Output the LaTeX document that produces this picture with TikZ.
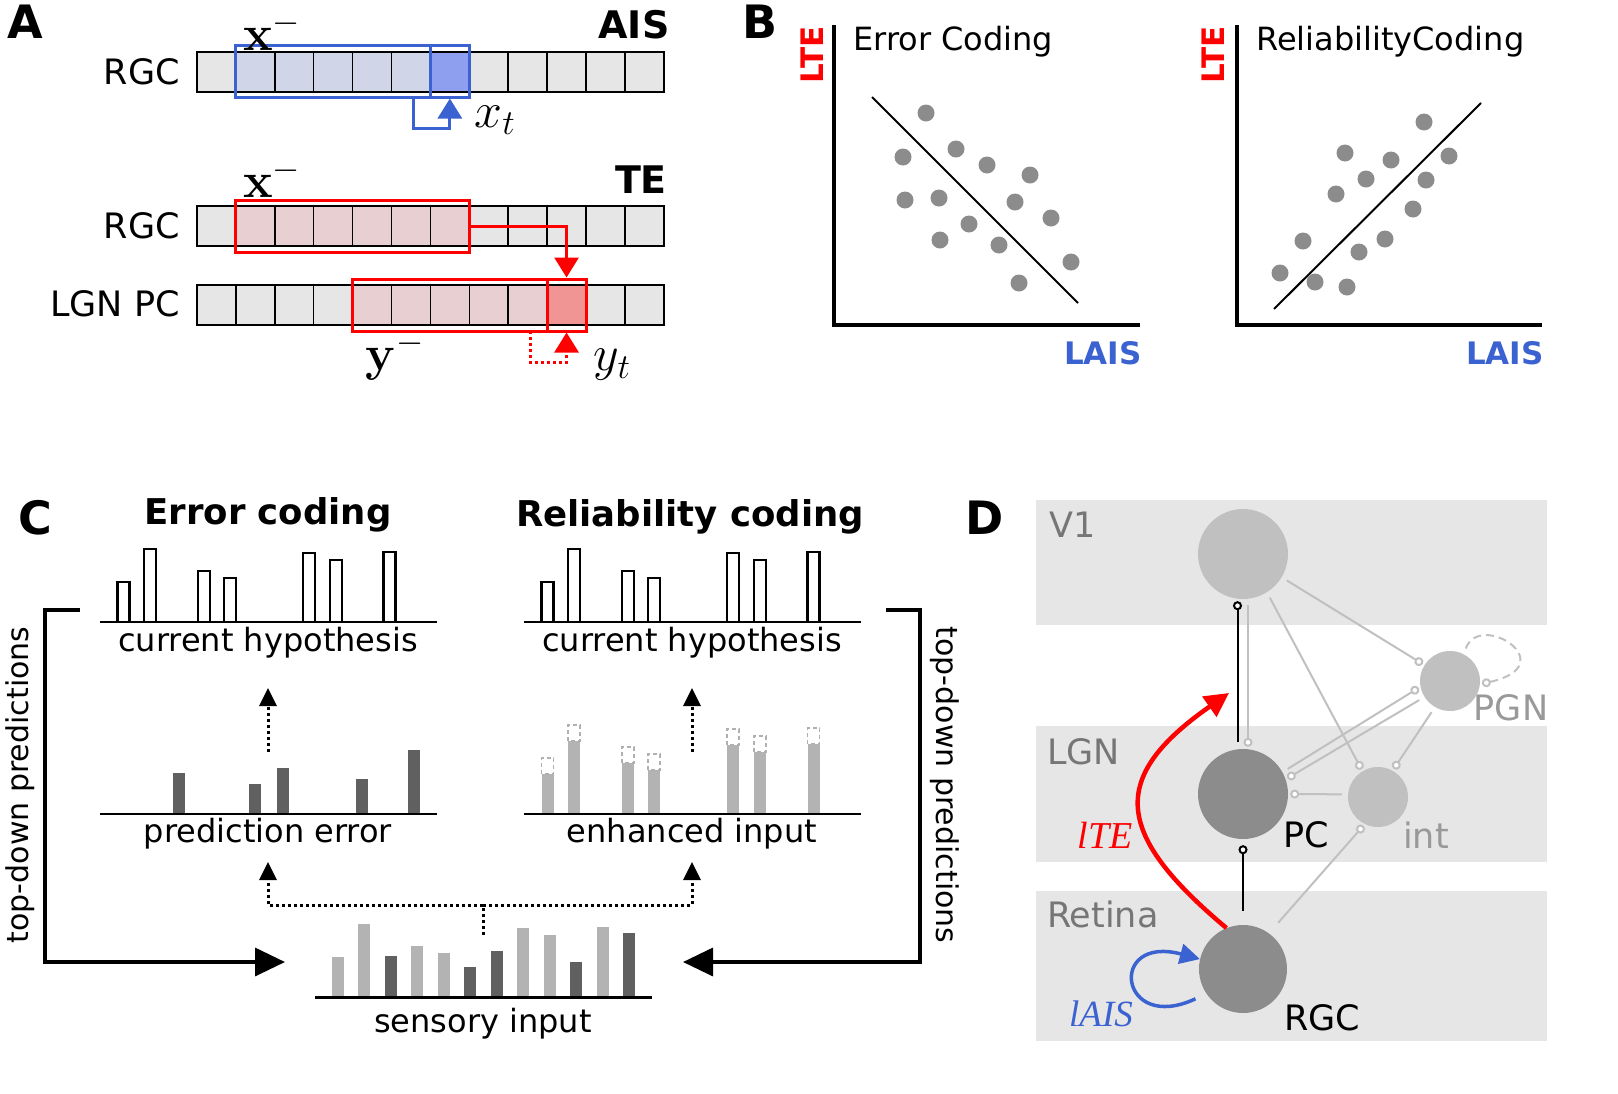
\RequirePackage{fix-cm}
\documentclass[tikz,border=0pt]{standalone}
\usepackage[no-math]{fontspec}
\setmainfont{DejaVu Sans}
\newfontfamily\labelserif{Liberation Serif}
\usetikzlibrary{arrows.meta,positioning}

\definecolor{cellgray}{HTML}{E6E6E6}
\definecolor{aisblue}{HTML}{3A62D0}
\definecolor{pastblue}{HTML}{D0D5E8}
\definecolor{nowblue}{HTML}{8F9FF0}
\definecolor{pastred}{HTML}{E8D0D2}
\definecolor{nowred}{HTML}{F09494}
\definecolor{dotgray}{HTML}{8C8C8C}
\definecolor{lightbar}{HTML}{B3B3B3}
\definecolor{darkbar}{HTML}{606060}
\definecolor{dashgray}{HTML}{B0B0B0}
\definecolor{bandgray}{HTML}{E6E6E6}
\definecolor{cellfill}{HTML}{C0C0C0}
\definecolor{labgray}{HTML}{767676}
\definecolor{namegray}{HTML}{999999}

\newcommand{\fsz}[1]{\fontsize{#1}{#1}\selectfont}

\begin{document}
\begin{tikzpicture}[x=1pt,y=-1pt,
  panel/.style={inner sep=0pt, font=\fsz{46}\bfseries},
  rowlbl/.style={inner sep=0pt, anchor=east, font=\fsz{35}},
  mathlbl/.style={inner sep=0pt, font=\fsz{50}},
  boldlbl/.style={inner sep=0pt, font=\fsz{38}\bfseries},
  axislbl/.style={inner sep=0pt, font=\fsz{31}\bfseries},
  lbl/.style={inner sep=0pt, font=\fsz{32}},
  ttl/.style={inner sep=0pt, font=\fsz{35.5}\bfseries},
  cell/.style={draw=black, line width=1.5pt, fill=cellgray},
  winbox/.style={draw=#1, line width=3pt, inner sep=0pt, minimum height=52pt},
  aisarrow/.style={draw=aisblue, line width=3pt, -{Triangle[length=20pt,width=24pt]}},
  tearrow/.style={draw=red, line width=3pt, -{Triangle[length=20pt,width=24pt]}},
  tedots/.style={tearrow, dash pattern=on 3pt off 3pt},
  axis/.style={line width=3.5pt},
  hypbar/.style={draw=black, line width=2.5pt, fill=white},
  base/.style={line width=2pt},
  dashbox/.style={draw=dashgray, line width=1.5pt, dash pattern=on 4pt off 3pt},
  dotline/.style={line width=3pt, dash pattern=on 3pt off 3pt},
  dotarrow/.style={dotline, -{Triangle[length=18pt,width=17pt]}},
  fbarrow/.style={line width=3.5pt, -{Triangle[length=30pt,width=28pt]}},
  bandlbl/.style={inner sep=0pt, anchor=west, text=labgray, font=\fsz{35}},
  cellname/.style={inner sep=0pt, font=\fsz{35}},
  cellnode/.style={circle, inner sep=0pt},
  syn/.style={draw=cellfill, line width=2pt, shorten <=6pt, shorten >=2pt, -{Circle[length=9pt, fill=white]}},
  synblack/.style={syn, draw=black},
  synloop/.style={syn, dash pattern=on 8pt off 5pt},
  tearc/.style={draw=red, line width=4.5pt, -{Triangle[length=24pt,width=24pt]}},
  aisloop/.style={draw=aisblue, line width=3.5pt, -{Triangle[length=20pt,width=20pt]}}
]
\useasboundingbox (0,0) rectangle (1618,1093);

% ---------- A ----------
\node[panel] (lblA) at (25,22) {A};
\foreach \y in {52,206,285}
  \foreach \i in {0,...,11}
    \draw[cell] (197+\i*38.9,\y) rectangle ++(38.9,40);
\foreach \i in {1,...,5}
  \draw[cell,fill=pastblue] (197+\i*38.9,52) rectangle ++(38.9,40);
\draw[cell,fill=nowblue] (197+6*38.9,52) rectangle ++(38.9,40);
\foreach \i in {1,...,6}
  \draw[cell,fill=pastred] (197+\i*38.9,206) rectangle ++(38.9,40);
\foreach \i in {4,...,8}
  \draw[cell,fill=pastred] (197+\i*38.9,285) rectangle ++(38.9,40);
\draw[cell,fill=nowred] (197+9*38.9,285) rectangle ++(38.9,40);

\node[winbox=aisblue, minimum width=233.4pt] (xpastA) at (352.6,71) {};
\node[winbox=aisblue, minimum width=38.9pt] (xnowA) at (449.85,71) {};
\node[winbox=red, minimum width=233.4pt] (xpastT) at (352.6,226) {};
\node[winbox=red, minimum width=233.4pt] (ypastT) at (469.3,305) {};
\node[winbox=red, minimum width=38.9pt] (ynowT) at (566.55,305) {};

\coordinate (aisfrom) at (413,97);
\draw[aisarrow] (aisfrom) -- ++(0,31) -| (xnowA.south);
\draw[tearrow] (xpastT.east) -| (ynowT.north);
\coordinate (yfrom) at (530,331);
\draw[tedots] (yfrom) -- ++(0,31) -| (ynowT.south);

\node[mathlbl] (xlabA) at (272,31) {$\mathbf{x}^{-}$};
\node[mathlbl] (xtlab) at (495,120) {$x_t$};
\node[boldlbl] (aislab) at (634,25) {AIS};
\node[rowlbl] (rgcA) at (180,72) {RGC};
\node[mathlbl] (xlabT) at (272,178) {$\mathbf{x}^{-}$};
\node[boldlbl] (telab) at (641,180) {TE};
\node[rowlbl] (rgcT) at (180,226) {RGC};
\node[rowlbl] (lgnT) at (180,304) {LGN PC};
\node[mathlbl] (ylab) at (395,356) {$\mathbf{y}^{-}$};
\node[mathlbl] (ytlab) at (612,365) {$y_t$};

% ---------- B ----------
\node[panel] (lblB) at (760,22) {B};
\draw[axis] (834,25) -- (834,325) -- (1140,325);
\node[lbl, anchor=west] (ttlEC) at (853,42) {Error Coding};
\node[axislbl, text=red, rotate=90] (lteL) at (812,55) {LTE};
\node[axislbl, text=aisblue] (laisL) at (1103,353) {LAIS};
\draw[line width=2pt] (872,97) -- (1078,303);
\foreach \x/\y in {926/113, 903/157, 956/149, 987/165, 1030/175, 905/200, 939/198,
                   1015/202, 1051/218, 969/224, 940/240, 999/245, 1071/262, 1019/283}
  \fill[dotgray] (\x,\y) circle[radius=8.5pt];

\draw[axis] (1237,25) -- (1237,325) -- (1542,325);
\node[lbl, anchor=west] (ttlRC) at (1256,42) {ReliabilityCoding};
\node[axislbl, text=red, rotate=90] (lteR) at (1213,55) {LTE};
\node[axislbl, text=aisblue] (laisR) at (1505,353) {LAIS};
\draw[line width=2pt] (1274,309) -- (1481,103);
\foreach \x/\y in {1424/122, 1345/153, 1391/160, 1449/156, 1366/179, 1426/180, 1336/194,
                   1413/209, 1303/241, 1385/239, 1359/252, 1280/273, 1315/282, 1347/287}
  \fill[dotgray] (\x,\y) circle[radius=8.5pt];

% ---------- C ----------
\node[panel] (lblC) at (35,518) {C};
\node[ttl] (ttlErr) at (268,515) {Error coding};
\node[ttl] (ttlRel) at (690,517) {Reliability coding};

% current hypothesis (both columns)
\foreach \dx in {0,424} {
  \foreach \x/\h in {23.5/40, 50/73, 104/51, 130/44, 209/69, 236/62, 289.5/70}
    \draw[hypbar] (100+\dx+\x-6,622) rectangle ++(12,-\h);
  \draw[base] (100+\dx,622) -- ++(337,0);
}
% prediction error
\foreach \x/\h in {78.8/41, 155.3/30, 182.6/46, 262.3/35, 313.5/64}
  \fill[darkbar] (100+\x-6,814) rectangle ++(12,-\h);
\draw[base] (100,814) -- ++(337,0);
% enhanced input
\foreach \x/\h in {23.5/40, 50/73, 104/51, 130/44, 209/69, 236/62, 289.5/70} {
  \fill[lightbar] (524+\x-6,814) rectangle ++(12,-\h);
  \draw[dashbox] (524+\x-6,814-\h) rectangle ++(12,-16);
}
\draw[base] (524,814) -- ++(337,0);
% sensory input
\foreach \x/\h/\c in {337.5/40/lightbar, 364/73/lightbar, 390.5/41/darkbar, 417/51/lightbar,
                      443.5/44/lightbar, 470/30/darkbar, 496.5/46/darkbar, 523/69/lightbar,
                      549.5/62/lightbar, 576/35/darkbar, 602.5/70/lightbar, 629/64/darkbar}
  \fill[\c] (\x-6,997) rectangle ++(12,-\h);
\draw[base, line width=3pt] (315,997) -- (652,997);

\node[lbl] (hypErr) at (268,643) {current hypothesis};
\node[lbl] (hypRel) at (692,643) {current hypothesis};
\node[lbl] (errLbl) at (268,834) {prediction error};
\node[lbl] (enhLbl) at (692,834) {enhanced input};
\node[lbl] (sensLbl) at (483,1024) {sensory input};
\node[lbl, font=\fsz{30}, rotate=90] (tdL) at (20,785) {top-down predictions};
\node[lbl, font=\fsz{30}, rotate=-90] (tdR) at (945,785) {top-down predictions};

\coordinate (fbLtop) at (80,610);
\coordinate (fbRtop) at (886,610);
\coordinate (sensleft) at (285,962);
\coordinate (sensright) at (683,962);
\draw[fbarrow] (fbLtop) -- ++(-35,0) |- (sensleft);
\draw[fbarrow] (fbRtop) -- ++(34,0) |- (sensright);

\coordinate (errUp) at (268,752);
\coordinate (hypDownE) at (268,688);
\coordinate (enhUp) at (692,752);
\coordinate (hypDownR) at (692,688);
\draw[dotarrow] (errUp) -- (hypDownE);
\draw[dotarrow] (enhUp) -- (hypDownR);
\coordinate (sensUp) at (483,935);
\coordinate (split) at (483,905);
\coordinate (errDown) at (268,862);
\coordinate (enhDown) at (692,862);
\draw[dotline] (sensUp) -- (split);
\draw[dotarrow] (split) -| (errDown);
\draw[dotarrow] (split) -| (enhDown);

% ---------- D ----------
\node[panel] (lblD) at (985,518) {D};
\fill[bandgray] (1036,500) rectangle (1547,625);
\fill[bandgray] (1036,726) rectangle (1547,862);
\fill[bandgray] (1036,891) rectangle (1547,1041);
\node[bandlbl] (v1lbl) at (1049,525) {V1};
\node[bandlbl] (lgnlbl) at (1047,752) {LGN};
\node[bandlbl] (retlbl) at (1047,914) {Retina};

\node[cellnode, fill=cellfill, minimum size=90pt] (v1) at (1243,554) {};
\node[cellnode, fill=cellfill, minimum size=60pt] (pgn) at (1450,681) {};
\node[cellnode, fill=dotgray, minimum size=90pt] (pc) at (1243,794) {};
\node[cellnode, fill=cellfill, minimum size=60pt] (int) at (1378,797) {};
\node[cellnode, fill=dotgray, minimum size=88pt] (rgc) at (1243,969) {};

\node[cellname] (pclbl) at (1306,835) {PC};
\node[cellname, text=namegray] (intlbl) at (1426,835) {int};
\node[cellname, text=namegray] (pgnlbl) at (1511,708) {PGN};
\node[cellname] (rgclbl) at (1322,1018) {RGC};

\draw[syn] ([xshift=5pt]v1.south) -- ([xshift=5pt]pc.north);
\draw[syn] (v1.-58) -- (int.121);
\draw[syn] (v1.-31) -- (pgn.148);
\draw[syn] (pc.29) -- (pgn.191);
\draw[syn] (pgn.212) -- (pc.19);
\draw[syn] (int.175) -- (pc.0);
\draw[syn] (pgn.240) -- (int.61);
\draw[syn, shorten <=14pt] (rgc.54) -- (int.244);
\draw[synloop] (pgn.63) .. controls (1480,610) and (1565,665) .. (pgn.-6);
\draw[synblack, shorten <=7pt] ([xshift=-5.5pt]pc.north) -- ([xshift=-5.5pt]v1.south);
\draw[synblack, shorten <=14pt, shorten >=6pt] (rgc.north) -- (pc.south);

\coordinate (tetip) at (1229,693);
\draw[tearc] (rgc.112) to[out=140, in=-145, looseness=1.6] (tetip);
\draw[aisloop, shorten <=12pt] (rgc.214) to[out=205, in=165, looseness=7] (rgc.167);
\node[inner sep=0pt, text=red, font=\fsz{38}\labelserif\itshape] (ltelbl) at (1105,835) {lTE};
\node[inner sep=0pt, text=aisblue, font=\fsz{37}\labelserif\itshape] (laislbl) at (1101,1014) {lAIS};

\end{tikzpicture}
\end{document}
